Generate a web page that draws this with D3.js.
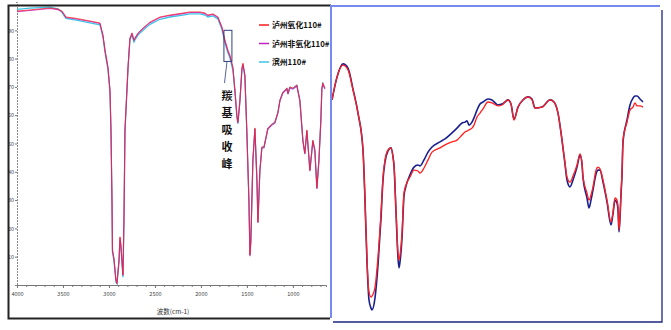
<!DOCTYPE html>
<html>
<head>
<meta charset="utf-8">
<script src="https://cdn.jsdelivr.net/npm/d3@7"></script>
<style>
body { margin: 0; background: #fff; }
svg { display: block; }
text { font-family: "Noto Sans CJK SC", "DejaVu Sans", sans-serif; }
</style>
</head>
<body>
<svg id="chart" width="671" height="330"></svg>
<script>
// left panel: full IR spectrum, three samples
var leftWave = [4000,3859,3641,3554,3511, 3489,3467,3370,3206,3098, 3065,3043,3011,2989,2978, 2967,2962,2946,2924,2913, 2891,2880,2870,2848,2837,
	2826,2793,2772,2750,2728, 2717,2685,2630,2554,2446, 2337,2196,2119,2011,1956, 1924,1869,1815,1772,1739, 1706,1685,1652,1630,1609,
	1598,1576,1554,1543,1522, 1500,1478,1467,1457,1435, 1413,1391,1380,1359,1337, 1315,1272,1228,1196,1163, 1141,1109,1065,1054,1033,
	1000,957,946,924,891, 870,848,815,783,761, 739,717,696,685,674, 652];
var leftRed = [96.8,97.2,97.9,97.5,96.8, 95.8,94.7,94.3,93.3,92.6, 88.3,83.0,77.0,68.9,54.8, 30.0,12.4,9.5,1.8,0.5, 8.8,17.0,14.1,3.5,23.0,
	54.8,77.0,87.3,89.0,86.6, 87.3,89.0,90.8,92.9,94.7, 95.4,96.1,96.5,96.5,96.1, 95.4,95.8,94.7,91.2,86.6, 83.0,81.3,77.0,68.9,60.1,
	57.6,65.4,76.7,78.4,74.2, 53.7,30.0,10.6,15.9,44.2, 55.5,37.1,22.3,40.6,48.8, 48.8,55.5,56.9,57.6,61.1, 65.4,68.2,69.6,67.8,70.0,
	69.6,70.7,68.9,65.4,51.2, 46.6,54.8,40.6,51.2,47.7, 34.3,44.2,58.3,69.6,71.4, 69.6];
var leftPurple = [96.6,97.0,97.7,97.3,96.6, 95.6,94.5,94.1,93.1,92.4, 88.1,82.8,76.8,68.7,54.6, 29.8,12.2,9.3,1.6,0.8, 8.6,16.8,13.9,3.3,22.8,
	54.6,76.8,87.1,88.8,86.4, 87.1,88.8,90.6,92.7,94.5, 95.2,95.9,96.3,96.3,95.9, 95.2,95.6,94.5,91.0,86.2, 82.6,80.9,76.6,68.5,59.7,
	57.2,65.0,76.3,78.0,73.8, 53.3,29.6,10.2,15.5,43.8, 55.1,36.7,21.9,40.2,48.4, 48.4,55.1,56.5,57.2,60.7, 65.0,67.8,69.2,67.4,69.6,
	69.2,70.3,68.5,65.0,50.8, 46.2,54.4,40.2,50.8,47.3, 33.9,43.8,57.9,69.2,71.0, 69.2];
var leftCyan = [97.4,97.8,98.2,97.6,96.4, 95.2,94.2,93.7,92.6,91.9, 87.5,82.2,76.2,68.1,54.0, 29.2,11.6,8.7,1.0,0.5, 8.0,16.2,13.3,2.7,22.2,
	54.0,76.2,86.6,88.3,85.9, 86.6,88.3,90.0,92.1,93.9, 94.7,95.4,95.8,95.8,95.4, 94.7,95.1,94.0,90.4,85.6, 82.0,80.3,75.8,68.1,59.3,
	57.0,64.8,76.3,78.0,73.8, 53.3,29.6,10.4,15.7,44.0, 55.3,36.9,22.1,40.4,48.6, 48.6,55.3,56.7,57.4,60.9, 65.2,68.0,69.4,67.6,69.8,
	69.4,70.5,68.7,65.2,51.0, 46.4,54.6,40.4,51.0,47.5, 34.1,44.0,58.1,69.4,71.2, 69.4];

var legendNames = ["泸州氧化110#", "泸州非氧化110#", "滨州110#"];
var legendColors = ["#ff1a1a", "#c020c0", "#3cc6e6"];
var xTicks = [4000, 3500, 3000, 2500, 2000, 1500, 1000];
var yTicks = [10, 20, 30, 40, 50, 60, 70, 80, 90];
var xTitle = "波数(cm-1)";
var noteText = "羰基吸收峰";
var noteBox = [1750, 1663, 90, 79]; // wave from, wave to, T top, T bottom

// right panel: zoomed fingerprint region, two curves
var rightWave = [1580,1565,1547,1532,1517, 1502,1487,1481,1475,1469, 1463,1460,1451,1442,1433, 1427,1421,1412,1403,1397,
	1394,1388,1382,1379,1376, 1370,1364,1358,1346,1334, 1322,1316,1304,1292,1280, 1256,1241,1220,1205,1190,
	1181,1175,1169,1160,1154, 1145,1136,1127,1112,1100, 1082,1070,1061,1052,1043, 1034,1022,1007,992,980,
	971,950,926,914,902, 890,881,875,866,857, 845,836,830,827,815, 809,803,797,788,782,
	776,767,755,743,737, 731,725,722,719,716, 713,710,707,695,686, 677,671,665,656,647];
var rightRed = [76.7,84.3,88.3,86.7,80, 72.3,60,43.3,23.3,12.7, 11,11.3,14.3,24.3,39, 51,56.7,60,60.7,57.7,
	55,40,25.7,23.3,25, 32.3,45.7,48.3,51,53.3, 53,52.3,54,56.7,59.3, 60.7,61.7,62.7,63.3,65,
	66,66.3,66.7,67.3,68.3, 71,72.3,73.7,76,75.7, 74.7,75,76,76.7,75.3, 70,74.3,76.7,77.7,76.7,
	74,74.3,76.7,76,72.3, 63.3,55.7,51,49.3,51.3, 55,58.7,55.7,51,45.7, 43.3,45,47.7,53.3,54.3,
	53.7,50,43.3,36,39.3, 44,43.3,41,33.3,38.3, 45.7,52.3,63.3,69.3,73.3, 74.3,75.7,74.7,74.7,74.3];
var rightBlue = [76.7,84.3,88.7,87.3,80.3, 72.3,60,43.3,22.7,10, 7.3,6.7,10.7,21.7,37.3, 50,56,59.7,60.7,57.7,
	54.7,39.3,24,20.7,22.7, 30.7,44.7,48,51.7,54.3, 55,54.7,56.7,59.3,61, 62.7,63.7,65.7,67.3,69,
	69.3,69.7,68.3,69.3,70.7, 73.3,75.3,76,77,76.7, 75,75.3,76,76.7,75.3, 70.3,74.3,76.7,77.7,77,
	74,74.3,76.7,76,72.3, 63.3,55.3,50,47.7,50, 54.3,58.3,55.3,50.7,44, 40.7,43.3,46.7,52,53.3,
	53.3,49.3,42.7,35,38.7, 43.3,42.3,40,32.7,37.3, 45,51.7,62.7,70,75, 77.3,78,78,77,76];

var svg = d3.select("#chart");

// ---- left panel ----
var xL = d3.scaleLinear().domain([4000, 640]).range([17, 326]);
var yL = d3.scaleLinear().domain([0, 100]).range([285, 2]);

svg.append("defs").append("clipPath").attr("id", "clipL")
	.append("rect").attr("x", 17).attr("y", 6).attr("width", 312).attr("height", 282);

// minor ticks on x axis
svg.append("g")
	.attr("transform", "translate(0,285)")
	.call(d3.axisBottom(xL).tickValues(d3.range(4000, 640, -100)).tickSize(2).tickFormat(""))
	.call(function(g) {
		g.select(".domain").attr("stroke", "#777");
		g.selectAll(".tick line").attr("stroke", "#777");
	});

svg.append("g")
	.attr("transform", "translate(0,285)")
	.call(d3.axisBottom(xL).tickValues(xTicks).tickSize(3).tickPadding(4).tickFormat(d3.format("d")))
	.call(function(g) {
		g.select(".domain").remove();
		g.selectAll(".tick line").attr("stroke", "#777");
		g.selectAll("text").attr("font-size", 5.5).attr("fill", "#444");
	});

svg.append("g")
	.attr("transform", "translate(17,0)")
	.call(d3.axisLeft(yL).tickValues(yTicks).tickSize(2).tickPadding(1))
	.call(function(g) {
		g.select(".domain").attr("stroke", "#888").attr("stroke-dasharray", "2,1");
		g.selectAll(".tick line").attr("stroke", "#777");
		g.selectAll("text").attr("font-size", 5.5).attr("fill", "#444");
	});

svg.append("text")
	.attr("x", 173).attr("y", 314)
	.attr("text-anchor", "middle")
	.attr("font-size", 6.5).attr("fill", "#333")
	.text(xTitle);

var lineL = d3.line()
	.x(function(d) { return xL(d[0]); })
	.y(function(d) { return yL(d[1]); });

var leftSeries = [
	{ color: legendColors[2], vals: leftCyan, w: 1.3, op: 1 },
	{ color: legendColors[1], vals: leftPurple, w: 1.1, op: 0.8 },
	{ color: legendColors[0], vals: leftRed, w: 1.0, op: 0.7 }
];

var gL = svg.append("g").attr("clip-path", "url(#clipL)");
leftSeries.forEach(function(s) {
	gL.append("path")
		.datum(leftWave.map(function(w, i) { return [w, s.vals[i]]; }))
		.attr("d", lineL)
		.attr("fill", "none")
		.attr("stroke", s.color)
		.attr("stroke-width", s.w)
		.attr("stroke-opacity", s.op);
});

// carbonyl box and pointer
svg.append("rect")
	.attr("x", xL(noteBox[0])).attr("y", yL(noteBox[2]))
	.attr("width", xL(noteBox[1]) - xL(noteBox[0]))
	.attr("height", yL(noteBox[3]) - yL(noteBox[2]))
	.attr("fill", "none").attr("stroke", "#2f3f7f").attr("stroke-width", 1);

svg.append("line")
	.attr("x1", 227).attr("y1", yL(noteBox[3]))
	.attr("x2", 224.5).attr("y2", 83)
	.attr("stroke", "#2f3f7f").attr("stroke-width", 0.8);

noteText.split("").forEach(function(ch, i) {
	svg.append("text")
		.attr("x", 227).attr("y", 100 + i * 17)
		.attr("text-anchor", "middle")
		.attr("font-size", 11).attr("font-weight", "bold")
		.attr("fill", "#111")
		.text(ch);
});

// legend
var legend = svg.append("g").selectAll("g")
	.data(legendNames)
	.enter().append("g")
	.attr("transform", function(d, i) { return "translate(259," + (25 + i * 18.5) + ")"; });

legend.append("line")
	.attr("x1", 0).attr("x2", 10)
	.attr("stroke", function(d, i) { return legendColors[i]; })
	.attr("stroke-width", 1.5);

legend.append("text")
	.attr("x", 13).attr("y", 3)
	.attr("font-size", 7.8).attr("font-weight", "bold")
	.attr("fill", "#111")
	.text(function(d) { return d; });

// left frame
svg.append("path")
	.attr("d", "M331,5.5 H8.5 V318.5 H330")
	.attr("fill", "none")
	.attr("stroke", "#222")
	.attr("stroke-width", 2);

// ---- right panel ----
var xR = d3.scaleLinear().domain([1580, 647]).range([332, 643]);
var yR = d3.scaleLinear().domain([0, 100]).range([330, 30]);

var lineR = d3.line()
	.x(function(d) { return xR(d[0]); })
	.y(function(d) { return yR(d[1]); })
	.curve(d3.curveMonotoneX);

svg.append("path")
	.datum(rightWave.map(function(w, i) { return [w, rightBlue[i]]; }))
	.attr("d", lineR)
	.attr("fill", "none")
	.attr("stroke", "#1a1f8f")
	.attr("stroke-width", 1.6);

svg.append("path")
	.datum(rightWave.map(function(w, i) { return [w, rightRed[i]]; }))
	.attr("d", lineR)
	.attr("fill", "none")
	.attr("stroke", "#ff1f1f")
	.attr("stroke-width", 1.3);

// right frame: light blue top/left, navy bottom/right
svg.append("path")
	.attr("d", "M331,318 V6 H660")
	.attr("fill", "none")
	.attr("stroke", "#7788ee")
	.attr("stroke-width", 2);

svg.append("path")
	.attr("d", "M662,10 V322 H333")
	.attr("fill", "none")
	.attr("stroke", "#1c2680")
	.attr("stroke-width", 1.3);
</script>
</body>
</html>
